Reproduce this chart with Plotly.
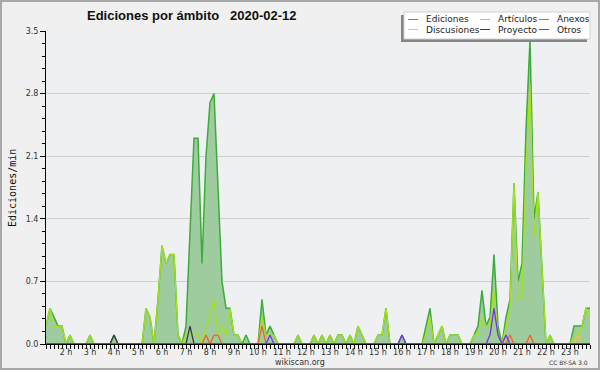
import plotly.graph_objects as go

# ---- data (edits per minute, one point every 10 minutes, 01:10 .. 23:50) ----
start_hour = 1 + 10 / 60
n_points = 137
hours = [start_hour + k / 6 for k in range(n_points)]

ediciones = [
    0.2, 0.4, 0.3, 0.2, 0.2, 0, 0.1, 0, 0, 0,
    0, 0.1, 0, 0, 0, 0, 0, 0.1, 0, 0,
    0, 0, 0, 0, 0, 0.4, 0.3, 0, 0.5, 1.1,
    0.9, 1.0, 1.0, 0.1, 0, 0.2, 1.2, 2.3, 2.3, 0.9,
    2.1, 2.7, 2.8, 1.7, 0.7, 0.4, 0.4, 0.1, 0.1, 0,
    0.1, 0, 0, 0, 0.5, 0.1, 0.2, 0.1, 0, 0,
    0, 0, 0, 0.1, 0, 0, 0, 0.1, 0, 0.1,
    0, 0.1, 0, 0.1, 0.1, 0, 0.1, 0, 0.2, 0.1,
    0, 0, 0, 0.1, 0.1, 0.4, 0, 0, 0, 0.1,
    0, 0, 0, 0, 0, 0.2, 0.4, 0, 0.1, 0.2,
    0, 0.1, 0.1, 0.1, 0, 0, 0, 0.1, 0.2, 0.6,
    0.2, 0.3, 1.0, 0.2, 0, 0.3, 0.5, 1.8, 0.7, 0.9,
    2.4, 3.4, 1.4, 1.7, 0.9, 0, 0.1, 0, 0, 0,
    0, 0, 0.2, 0.2, 0.2, 0.4, 0.4,
]
articulos = [
    0.2, 0.4, 0.2, 0.2, 0.2, 0, 0.1, 0, 0, 0,
    0, 0.1, 0, 0, 0, 0, 0, 0, 0, 0,
    0, 0, 0, 0, 0, 0.4, 0.3, 0, 0.5, 1.1,
    0.9, 1.0, 1.0, 0.1, 0, 0.1, 0.1, 0.1, 0.1, 0,
    0.2, 0.3, 0.5, 0.1, 0.2, 0.1, 0.4, 0.1, 0.1, 0,
    0, 0, 0, 0, 0.3, 0.1, 0.1, 0.1, 0, 0,
    0, 0, 0, 0.1, 0, 0, 0, 0.1, 0, 0.1,
    0, 0.1, 0, 0.1, 0.1, 0, 0.1, 0, 0.2, 0.1,
    0, 0, 0, 0.1, 0.1, 0.4, 0, 0, 0, 0,
    0, 0, 0, 0, 0, 0.1, 0.3, 0, 0.1, 0.2,
    0, 0.1, 0.1, 0.1, 0, 0, 0, 0.1, 0.1, 0.3,
    0.2, 0.2, 0.6, 0.1, 0, 0.2, 0.4, 1.8, 0.5, 0.5,
    2.0, 2.9, 1.2, 1.7, 0.9, 0, 0.1, 0, 0, 0,
    0, 0, 0.1, 0.1, 0.2, 0.4, 0.3,
]
anexos = [
    0, 0, 0, 0, 0, 0, 0, 0, 0, 0,
    0, 0, 0, 0, 0, 0, 0, 0, 0, 0,
    0, 0, 0, 0, 0, 0, 0, 0, 0, 0,
    0, 0, 0, 0, 0, 0, 0, 0, 0, 0,
    0.1, 0, 0.1, 0.1, 0, 0, 0, 0, 0, 0,
    0, 0, 0, 0, 0.2, 0, 0, 0, 0, 0,
    0, 0, 0, 0, 0, 0, 0, 0, 0, 0,
    0, 0, 0, 0, 0, 0, 0, 0, 0, 0,
    0, 0, 0, 0, 0, 0, 0, 0, 0, 0,
    0, 0, 0, 0, 0, 0, 0, 0, 0, 0,
    0, 0, 0, 0, 0, 0, 0, 0, 0, 0,
    0, 0, 0, 0, 0, 0, 0.1, 0, 0, 0,
    0, 0.1, 0, 0, 0, 0, 0, 0, 0, 0,
    0, 0, 0, 0, 0, 0, 0,
]
discusiones = [
    0, 0, 0, 0, 0, 0, 0, 0, 0, 0,
    0, 0, 0, 0, 0, 0, 0, 0, 0, 0,
    0, 0, 0, 0, 0, 0, 0, 0, 0, 0,
    0, 0, 0, 0, 0, 0, 0, 0, 0, 0,
    0, 0, 0, 0, 0, 0, 0, 0, 0, 0,
    0, 0, 0, 0, 0, 0, 0, 0, 0, 0,
    0, 0, 0, 0, 0, 0, 0, 0, 0, 0,
    0, 0, 0, 0, 0, 0, 0, 0, 0, 0,
    0, 0, 0, 0, 0, 0, 0, 0, 0, 0,
    0, 0, 0, 0, 0, 0, 0, 0, 0, 0,
    0, 0, 0, 0, 0, 0, 0, 0, 0, 0,
    0, 0, 0, 0, 0, 0, 0, 0, 0, 0,
    0, 0, 0, 0, 0, 0, 0, 0, 0, 0,
    0, 0, 0, 0.1, 0, 0, 0,
]
proyecto = [
    0, 0, 0, 0, 0, 0, 0, 0, 0, 0,
    0, 0, 0, 0, 0, 0, 0, 0.1, 0, 0,
    0, 0, 0, 0, 0, 0, 0, 0, 0, 0,
    0, 0, 0, 0, 0, 0, 0.2, 0, 0, 0,
    0, 0, 0, 0, 0, 0, 0, 0, 0, 0,
    0, 0, 0, 0, 0, 0, 0, 0, 0, 0,
    0, 0, 0, 0, 0, 0, 0, 0, 0, 0,
    0, 0, 0, 0, 0, 0, 0, 0, 0, 0,
    0, 0, 0, 0, 0, 0, 0, 0, 0, 0,
    0, 0, 0, 0, 0, 0, 0, 0, 0, 0,
    0, 0, 0, 0, 0, 0, 0, 0, 0, 0,
    0, 0, 0, 0, 0, 0, 0, 0, 0, 0,
    0, 0, 0, 0, 0, 0, 0, 0, 0, 0,
    0, 0, 0, 0, 0, 0, 0,
]
otros = [
    0, 0, 0, 0, 0, 0, 0, 0, 0, 0,
    0, 0, 0, 0, 0, 0, 0, 0, 0, 0,
    0, 0, 0, 0, 0, 0, 0, 0, 0, 0,
    0, 0, 0, 0, 0, 0, 0, 0, 0, 0,
    0, 0, 0, 0, 0, 0, 0, 0, 0, 0,
    0, 0, 0, 0, 0, 0, 0.1, 0, 0, 0,
    0, 0, 0, 0, 0, 0, 0, 0, 0, 0,
    0, 0, 0, 0, 0, 0, 0, 0, 0, 0,
    0, 0, 0, 0, 0, 0, 0, 0, 0, 0.1,
    0, 0, 0, 0, 0, 0, 0, 0, 0, 0,
    0, 0, 0, 0, 0, 0, 0, 0, 0, 0,
    0, 0.1, 0.4, 0.1, 0, 0.1, 0, 0, 0, 0,
    0, 0, 0, 0, 0, 0, 0, 0, 0, 0,
    0, 0, 0, 0, 0, 0, 0,
]

hour_ticks = list(range(2, 24))
hour_labels = [f"{h} h" for h in hour_ticks]
y_ticks = [0, 0.7, 1.4, 2.1, 2.8, 3.5]
y_labels = ["0.0", "0.7", "1.4", "2.1", "2.8", "3.5"]

title_text = "Ediciones por ámbito\u00a0\u00a0\u00a02020-02-12"
y_title = "Ediciones/min"

# ---- styles ----
C_EDIC = "#3dab3d"
C_FILL = "#9fcc9f"
C_ART = "#a6e21c"
C_ANEX = "#f0642a"
C_DISC = "#f2c531"
C_PROY = "#3c3c3c"
C_OTROS = "#7a2fe6"

W, H = 600, 370
L, R, T, B = 46, 10, 31, 26


def px(x):
    return (x - L) / (W - L - R)


def py(y):
    return (H - B - y) / (H - T - B)


fig = go.Figure()
fig.add_trace(go.Scatter(x=hours, y=ediciones, mode="lines", fill="tozeroy",
                         fillcolor=C_FILL, line=dict(color=C_EDIC, width=1.5),
                         name="Ediciones"))
series = [("Artículos", articulos, C_ART), ("Discusiones", discusiones, C_DISC),
          ("Anexos", anexos, C_ANEX), ("Proyecto", proyecto, C_PROY),
          ("Otros", otros, C_OTROS)]
for name, vals, col in series:
    fig.add_trace(go.Scatter(x=hours, y=vals, mode="lines", name=name,
                             line=dict(color=col, width=1.3)))

tick_font = dict(family="DejaVu Sans", size=8, color="#333333")

fig.update_layout(
    width=W, height=H,
    margin=dict(l=L, r=R, t=T, b=B),
    paper_bgcolor="#f0f0f0",
    plot_bgcolor="#eef0f2",
    showlegend=False,
    xaxis=dict(range=[hours[0], hours[-1]], tickvals=hour_ticks, ticktext=hour_labels,
               ticks="outside", ticklen=4, tickcolor="black", tickwidth=1,
               minor=dict(dtick=1 / 6, tick0=0, ticks="outside", ticklen=4,
                          tickcolor="black", showgrid=False),
               showline=True, linecolor="black", linewidth=1,
               showgrid=False, zeroline=False, tickfont=tick_font, automargin=False,
               ticklabelstandoff=-4),
    yaxis=dict(range=[0, 3.5], tickvals=y_ticks, ticktext=y_labels,
               ticks="outside", ticklen=5, tickcolor="black",
               minor=dict(dtick=0.14, tick0=0, ticks="outside", ticklen=3,
                          tickcolor="black", showgrid=False),
               showline=True, linecolor="black", linewidth=1,
               showgrid=True, gridcolor="#cfcfcf", gridwidth=1,
               zeroline=False, tickfont=tick_font, automargin=False),
)

shapes = [
    # outer border
    dict(type="rect", xref="paper", yref="paper", x0=px(1), x1=px(599), y0=py(1), y1=py(369),
         line=dict(color="#a8a8a8", width=2), fillcolor="rgba(0,0,0,0)", layer="above"),
    # legend shadow and box
    dict(type="rect", xref="paper", yref="paper", x0=px(401), x1=px(587), y0=py(15), y1=py(42),
         line=dict(width=0), fillcolor="#858585", layer="above"),
    dict(type="rect", xref="paper", yref="paper", x0=px(404), x1=px(590), y0=py(12), y1=py(39),
         line=dict(color="#d0d0d0", width=1), fillcolor="white", layer="above"),
]
annotations = [
    dict(text="<b>" + title_text + "</b>", xref="paper", yref="paper", x=px(85), y=py(15),
         xanchor="left", yanchor="middle", showarrow=False,
         font=dict(family="Liberation Sans, Arial", size=13, color="#111111")),
    dict(text=y_title, xref="paper", yref="paper", x=px(12), y=py(188), textangle=-90,
         xanchor="center", yanchor="middle", showarrow=False,
         font=dict(family="DejaVu Sans Mono", size=10, color="#111111")),
    dict(text="wikiscan.org", xref="paper", yref="paper", x=px(300), y=py(362),
         xanchor="center", yanchor="middle", showarrow=False,
         font=dict(family="DejaVu Sans", size=8, color="#333333")),
    dict(text="CC BY-SA 3.0", xref="paper", yref="paper", x=px(590), y=py(362),
         xanchor="right", yanchor="middle", showarrow=False,
         font=dict(family="DejaVu Sans", size=6, color="#333333")),
]

legend_items = [
    ("Ediciones", C_EDIC, 408, 19.5), ("Artículos", C_ART, 480, 19.5), ("Anexos", C_ANEX, 539, 19.5),
    ("Discusiones", C_DISC, 408, 29.5), ("Proyecto", C_PROY, 480, 29.5), ("Otros", C_OTROS, 539, 29.5),
]
for label, col, lx, ly in legend_items:
    shapes.append(dict(type="line", xref="paper", yref="paper", x0=px(lx), x1=px(lx + 10),
                       y0=py(ly), y1=py(ly), line=dict(color=col, width=1), layer="above"))
    annotations.append(dict(text=label, xref="paper", yref="paper", x=px(lx + 16), y=py(ly),
                            xanchor="left", yanchor="middle", showarrow=False,
                            font=dict(family="DejaVu Sans", size=9, color="#222222")))

fig.update_layout(shapes=shapes, annotations=annotations)
fig.write_html("out.html", config={"displayModeBar": False},
               post_script="document.body.style.margin='0';document.body.style.overflow='hidden';")
